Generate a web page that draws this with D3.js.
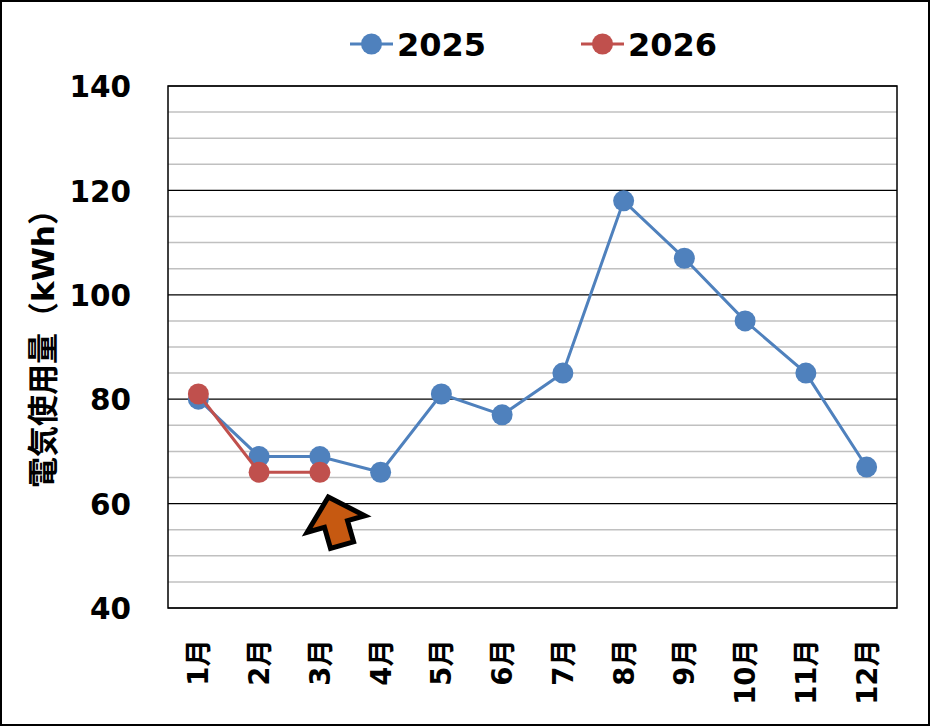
<!DOCTYPE html>
<html><head><meta charset="utf-8">
<script src="https://cdn.jsdelivr.net/npm/d3@7"></script>
<style>
html,body{margin:0;padding:0;background:#fff;}
svg text{font-family:"DejaVu Sans","Noto Sans CJK JP",sans-serif;font-weight:bold;fill:#000;}
</style></head>
<body>
<svg id="chart" width="930" height="726"></svg>
<script>
const months = ["1月","2月","3月","4月","5月","6月","7月","8月","9月","10月","11月","12月"];
const values2025 = [80,69,69,66,81,77,85,118,107,95,85,67];
const values2026 = [81,66,66];
const seriesNames = ["2025","2026"];
const seriesColors = ["#4F81BD","#C0504D"];
const yTicks = [40,60,80,100,120,140];
const yMinorTicks = d3.range(40,141,5);
const yTitle = "電気使用量（kWh）";

const svg = d3.select("#chart");
const W = 930, H = 726;
const m = {left:168, right:897, top:86, bottom:608};

svg.append("rect").attr("x",1).attr("y",1).attr("width",W-2).attr("height",H-2)
  .attr("fill","#fff").attr("stroke","#000").attr("stroke-width",2);

const x = d3.scaleBand().domain(months).range([m.left,m.right]).padding(0);
const y = d3.scaleLinear().domain([40,140]).range([m.bottom,m.top]);
const cx = d => x(d)+x.bandwidth()/2;

// minor grid
svg.append("g").selectAll("line").data(yMinorTicks.filter(v=>v%20!==0)).join("line")
  .attr("x1",m.left).attr("x2",m.right).attr("y1",d=>y(d)).attr("y2",d=>y(d))
  .attr("stroke","#C0C0C0").attr("stroke-width",1.5);
// major grid
svg.append("g").selectAll("line").data(yTicks).join("line")
  .attr("x1",m.left).attr("x2",m.right).attr("y1",d=>y(d)).attr("y2",d=>y(d))
  .attr("stroke","#000").attr("stroke-width",1.2);
// plot border
svg.append("rect").attr("x",m.left).attr("y",m.top).attr("width",m.right-m.left).attr("height",m.bottom-m.top)
  .attr("fill","none").attr("stroke","#000").attr("stroke-width",1.5);

// y axis labels
const yAxis = d3.axisLeft(y).tickValues(yTicks).tickSize(0).tickPadding(37);
const ga = svg.append("g").attr("transform",`translate(${m.left},0)`).call(yAxis);
ga.select(".domain").remove();
ga.selectAll("text").style("font-size","29.5px").attr("dy","0.36em");

// x axis labels
const xAxis = d3.axisBottom(x).tickSize(0).tickPadding(0);
const gx = svg.append("g").attr("transform",`translate(0,${m.bottom})`).call(xAxis);
gx.select(".domain").remove();
gx.selectAll("text").style("font-size","27.5px")
  .attr("transform","rotate(-90)").attr("text-anchor","end")
  .attr("x",-31).attr("y",0).attr("dy","0.36em");

// y title
svg.append("text").attr("transform","translate(43,341) rotate(-90)")
  .attr("text-anchor","middle").attr("dy","0.36em").style("font-size","31px").text(yTitle);

// lines
const line = d3.line().x(d=>cx(d.m)).y(d=>y(d.v));
[values2025, values2026].forEach((vals,i)=>{
  const data = vals.map((v,j)=>({m:months[j],v}));
  svg.append("path").datum(data).attr("d",line).attr("fill","none")
    .attr("stroke",seriesColors[i]).attr("stroke-width",3);
  svg.append("g").selectAll("circle").data(data).join("circle")
    .attr("cx",d=>cx(d.m)).attr("cy",d=>y(d.v)).attr("r",10.5).attr("fill",seriesColors[i]);
});

// legend
const legX = [350, 581];
seriesNames.forEach((name,i)=>{
  const g = svg.append("g").attr("transform",`translate(${legX[i]},44)`);
  g.append("line").attr("x1",0).attr("x2",43).attr("y1",0).attr("y2",0)
    .attr("stroke",seriesColors[i]).attr("stroke-width",3);
  g.append("circle").attr("cx",21.5).attr("cy",0).attr("r",10.5).attr("fill",seriesColors[i]);
  g.append("text").attr("x",47).attr("y",0).attr("dy","0.36em").style("font-size","32px").text(name);
});

// arrow annotation
svg.append("path")
  .attr("d","M0,-28 L30,0 L12,0 L12,22 L-12,22 L-12,0 L-30,0 Z")
  .attr("transform","translate(336,524) rotate(-16)")
  .attr("fill","#C65911").attr("stroke","#000").attr("stroke-width",5).attr("stroke-linejoin","miter");
</script>
</body></html>
